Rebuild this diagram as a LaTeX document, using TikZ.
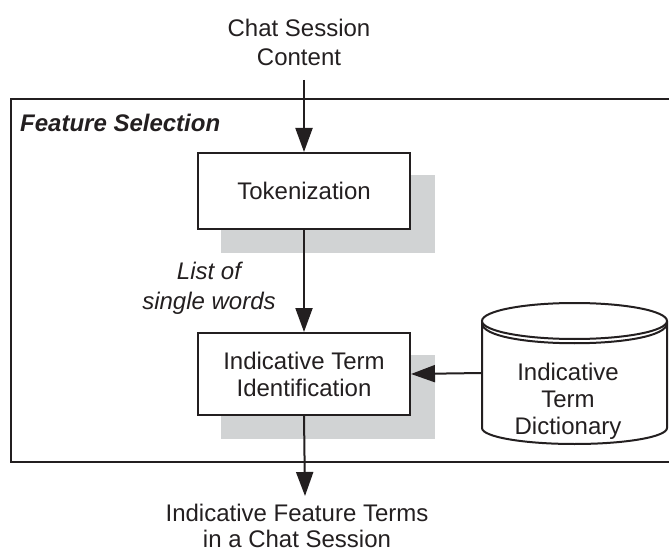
\documentclass[tikz,border=0pt]{standalone}
\usepackage{fontspec}
\setmainfont{Liberation Sans}
\usetikzlibrary{arrows.meta}
\definecolor{shade}{HTML}{D1D3D4}
\definecolor{ink}{HTML}{231F20}
\begin{document}
\begin{tikzpicture}[x=1pt,y=-1pt,
  every node/.style={font=\fontsize{24}{27}\selectfont, text=ink},
  procbox/.style={draw=ink, line width=2pt, fill=white, minimum width=212pt, align=center, inner sep=0pt},
  shadowbox/.style={fill=shade, draw=none},
  flow/.style={draw=ink, line width=2pt, -{Triangle[length=24pt,width=17pt]}},
  lbl/.style={align=center, inner sep=0pt}]
\useasboundingbox (0,0) rectangle (669,553);
% frame (right side cut off)
\draw[ink, line width=2pt] (670,99) -- (11,99) -- (11,462) -- (670,462);
\node[anchor=west, inner sep=0pt, font=\fontsize{24}{27}\selectfont\bfseries\itshape] (fs) at (20,123) {Feature Selection};
% shadows
\fill[shadowbox] (221,175) rectangle (435,253);
\fill[shadowbox] (221,355) rectangle (435,439);
% boxes
\node[procbox, minimum height=76pt] (tok) at (304,191) {Tokenization};
\node[procbox, minimum height=82pt] (iti) at (304,374) {Indicative Term\\Identification};
% cylinder
\begin{scope}[draw=ink, line width=2pt]
\draw[fill=white] (482,321) -- (482,428) arc[start angle=180, end angle=0, x radius=92.5, y radius=16] -- (667,321);
\draw[fill=white] (574.5,321) ellipse[x radius=92.5, y radius=18];
\draw (482,323) .. controls (482,350) and (667,350) .. (667,323);
\end{scope}
\node[inner sep=0pt, minimum width=185pt, minimum height=4pt] (dict) at (574.5,373) {};
\node[lbl] (dtext) at (568,401) {Indicative\\Term\\Dictionary};
% texts
\node[lbl, font=\fontsize{24}{29}\selectfont] (chat) at (299,42) {Chat Session\\Content};
\node[lbl, font=\fontsize{24}{30}\selectfont\itshape] (list) at (209,288) {List of\\single words};
\node[lbl, font=\fontsize{24}{26}\selectfont] (out) at (297,526) {Indicative Feature Terms\\in a Chat Session};
% connectors
\coordinate (cin) at (304,80);
\coordinate (cout) at (305,496);
\draw[flow] (cin) -- (tok.north);
\draw[flow] (tok.south) -- (iti.north);
\draw[flow] (iti.south) -- (cout);
\draw[flow] (dict.west) -- (iti.east);
\end{tikzpicture}
\end{document}
